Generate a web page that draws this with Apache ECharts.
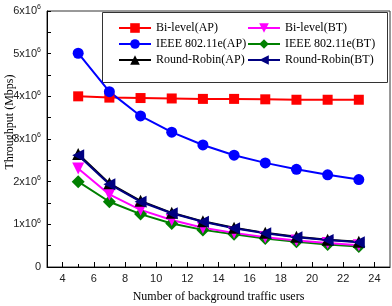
<!DOCTYPE html>
<html>
<head>
<meta charset="utf-8">
<script src="https://cdn.jsdelivr.net/npm/echarts@6/dist/echarts.min.js"></script>
<style>
  html, body { margin: 0; padding: 0; background: #fff; }
  #main { width: 392px; height: 306px; }
</style>
</head>
<body>
<div id="main"></div>
<script>
var users = [5, 7, 9, 11, 13, 15, 17, 19, 21, 23];
var majorTicks = [4, 6, 8, 10, 12, 14, 16, 18, 20, 22, 24];
var minorTicks = [5, 7, 9, 11, 13, 15, 17, 19, 21, 23];

var biAP   = [4.00, 3.97, 3.96, 3.95, 3.94, 3.94, 3.93, 3.92, 3.92, 3.92];
var biBT   = [2.31, 1.70, 1.34, 1.10, 0.92, 0.80, 0.70, 0.62, 0.56, 0.51];
var ieeeAP = [5.01, 4.11, 3.54, 3.16, 2.86, 2.62, 2.44, 2.29, 2.16, 2.05];
var ieeeBT = [2.00, 1.53, 1.24, 1.02, 0.87, 0.77, 0.67, 0.59, 0.53, 0.48];
var rrAP   = [2.65, 1.96, 1.55, 1.27, 1.07, 0.92, 0.80, 0.71, 0.64, 0.59];
var rrBT   = [2.62, 1.94, 1.53, 1.26, 1.06, 0.91, 0.79, 0.70, 0.63, 0.58];

function pairs(arr) {
  return users.map(function (u, i) { return [u, arr[i] * 1e6]; });
}

function line(name, arr, color, symbol, size, rotate) {
  return {
    name: name,
    type: 'line',
    data: pairs(arr),
    symbol: symbol,
    symbolSize: size,
    symbolRotate: rotate || 0,
    lineStyle: { color: color, width: 2 },
    itemStyle: { color: color },
    emphasis: { disabled: true },
    animation: false
  };
}

var chart = echarts.init(document.getElementById('main'));

var legendText = { fontFamily: 'Liberation Serif', fontSize: 12, color: '#000' };

chart.setOption({
  backgroundColor: '#fff',
  grid: {
    left: 47, right: 2, top: 11, bottom: 39,
    outerBoundsMode: 'none',
    show: true, borderColor: '#333', borderWidth: 1
  },
  legend: [{
    orient: 'vertical', left: 118, top: 22, itemGap: 4, padding: 0,
    itemWidth: 32, itemHeight: 12,
    textStyle: legendText,
    data: ['Bi-level(AP)', 'IEEE 802.11e(AP)', 'Round-Robin(AP)']
  }, {
    orient: 'vertical', left: 247, top: 22, itemGap: 4, padding: 0,
    itemWidth: 32, itemHeight: 12,
    textStyle: legendText,
    data: ['Bi-level(BT)', 'IEEE 802.11e(BT)', 'Round-Robin(BT)']
  }],
  graphic: [{
    type: 'rect',
    shape: { x: 102.5, y: 12.5, width: 285, height: 70 },
    style: { fill: '#fff', stroke: '#333', lineWidth: 1 },
    z: 1
  }, {
    // y axis title sits above the plot centre in the original
    type: 'text',
    x: 10, y: 122,
    rotation: Math.PI / 2,
    style: {
      text: 'Throughput (Mbps)',
      font: '12px "Liberation Serif"',
      fill: '#000',
      align: 'center',
      verticalAlign: 'middle'
    }
  }],
  xAxis: [{
    type: 'value', min: 3, max: 25,
    name: 'Number of background traffic users',
    nameLocation: 'middle', nameGap: 24,
    nameTextStyle: { fontFamily: 'Liberation Serif', fontSize: 12, color: '#000' },
    axisLine: { lineStyle: { color: '#000', width: 1 } },
    axisTick: { inside: true, length: 5, customValues: majorTicks, lineStyle: { color: '#000' } },
    axisLabel: {
      color: '#222', fontFamily: 'Liberation Sans', fontSize: 11, margin: 6,
      customValues: majorTicks
    },
    splitLine: { show: false }
  }, {
    type: 'value', min: 3, max: 25, position: 'bottom',
    axisLine: { show: false },
    axisTick: { inside: true, length: 3, customValues: minorTicks, lineStyle: { color: '#000' } },
    axisLabel: { show: false },
    splitLine: { show: false }
  }],
  yAxis: {
    type: 'value', min: 0, max: 6e6, interval: 0.5e6,
    axisLine: { lineStyle: { color: '#000', width: 1 } },
    axisTick: { inside: true, length: 4, lineStyle: { color: '#000' } },
    axisLabel: {
      color: '#222', fontFamily: 'Liberation Sans', fontSize: 11, margin: 6,
      formatter: function (v) {
        if (v === 0) return '0';
        if (v % 1e6 !== 0) return '';
        return (v / 1e6) + 'x10{s|6}';
      },
      rich: {
        s: { fontSize: 7, fontFamily: 'Liberation Sans', color: '#222', padding: [0, 0, 7, 0] }
      }
    },
    splitLine: { show: false }
  },
  series: [
    line('Bi-level(AP)', biAP, '#ff0000', 'rect', 10),
    line('IEEE 802.11e(BT)', ieeeBT, '#008000', 'diamond', 13),
    line('Bi-level(BT)', biBT, '#ff00ff', 'triangle', 12, 180),
    line('IEEE 802.11e(AP)', ieeeAP, '#0000ff', 'circle', 11),
    line('Round-Robin(AP)', rrAP, '#000000', 'triangle', 12),
    line('Round-Robin(BT)', rrBT, '#000080', 'triangle', 12, 90)
  ]
});
</script>
</body>
</html>
